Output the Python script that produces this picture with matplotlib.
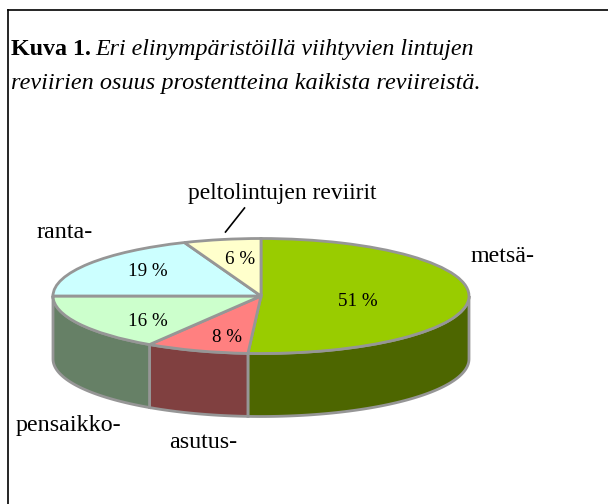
import numpy as np
import matplotlib
matplotlib.use('Agg')
import matplotlib.pyplot as plt
from matplotlib.patches import Polygon
from matplotlib.transforms import Affine2D

values = [51, 8, 16, 19, 6]
pct_labels = ['51 %', '8 %', '16 %', '19 %', '6 %']
names = ['metsä-', 'asutus-', 'pensaikko-', 'ranta-', 'peltolintujen reviirit']
top_colors = ['#99CC00', '#FF8080', '#CCFFCC', '#CCFFFF', '#FFFFCC']
wall_colors = ['#4D6600', '#804040', '#668066', '#668080', '#808066']

EDGE = '#969696'
H = 504
CX, CY = 261, H - 296
RX, RY = 208, 57.5
DEPTH = 63


def px(size):
    return size * 72 / 100


def main():
    plt.rcParams['font.family'] = ['Liberation Serif', 'DejaVu Serif']
    fig = plt.figure(figsize=(6.08, 5.04), dpi=100)
    ax = fig.add_axes([0, 0, 1, 1])

    # top face: a normal pie, squashed into an ellipse afterwards
    wedges, _ = ax.pie(values, colors=top_colors, startangle=90, counterclock=False,
                       radius=RX, center=(CX, CY),
                       wedgeprops={'edgecolor': EDGE, 'linewidth': 2.0, 'zorder': 3})
    squash = Affine2D().translate(-CX, -CY).scale(1, RY / RX).translate(CX, CY)
    for w in wedges:
        w.set_transform(squash + ax.transData)

    ax.set_aspect('auto')
    ax.set_xlim(0, 608)
    ax.set_ylim(0, H)
    ax.axis('off')

    # side wall, only the front half shows
    edges = np.cumsum([0] + values) / sum(values) * 2 * np.pi
    for i in range(len(values)):
        a0 = max(edges[i], np.pi / 2)
        a1 = min(edges[i + 1], 3 * np.pi / 2)
        if a1 <= a0:
            continue
        t = np.linspace(a0, a1, 80)
        x = CX + RX * np.sin(t)
        y = CY + RY * np.cos(t)
        pts = np.r_[np.c_[x, y], np.c_[x[::-1], y[::-1] - DEPTH]]
        ax.add_patch(Polygon(pts, closed=True, facecolor=wall_colors[i], edgecolor=EDGE,
                             linewidth=2.0, zorder=2))

    # percent labels
    pct_pos = [(358, 302), (227, 338), (148, 321), (148, 272), (240, 259)]
    for s, (x, y) in zip(pct_labels, pct_pos):
        ax.text(x, H - y, s, ha='center', va='center', fontsize=px(19), color='black', zorder=5)

    # category labels
    name_pos = [(471, 256), (169, 443), (16, 425), (37, 233), (188, 194)]
    name_size = [24, 24, 24, 24, 23.5]
    for s, (x, y), fs in zip(names, name_pos, name_size):
        ax.text(x, H - y, s, ha='left', va='center', fontsize=px(fs), color='black', zorder=5)
    ax.plot([225.5, 244.5], [H - 232, H - 208], color='black', linewidth=1.2, zorder=5)

    # caption
    ax.text(11, H - 55, 'Kuva 1.', fontweight='bold', fontsize=px(24), va='baseline')
    ax.text(95, H - 55, 'Eri elinympäristöillä viihtyvien lintujen', fontstyle='italic',
            fontsize=px(24), va='baseline')
    ax.text(11, H - 89, 'reviirien osuus prostentteina kaikista reviireistä.', fontstyle='italic',
            fontsize=px(24.2), va='baseline')

    # only the top and left rules are there
    ax.plot([7.5, 608], [H - 10, H - 10], color='black', linewidth=1.2, zorder=6)
    ax.plot([7.5, 7.5], [H - 10, 0], color='black', linewidth=1.2, zorder=6)

    fig.savefig('out.png', dpi=100, facecolor='white')


if __name__ == "__main__":
    main()
